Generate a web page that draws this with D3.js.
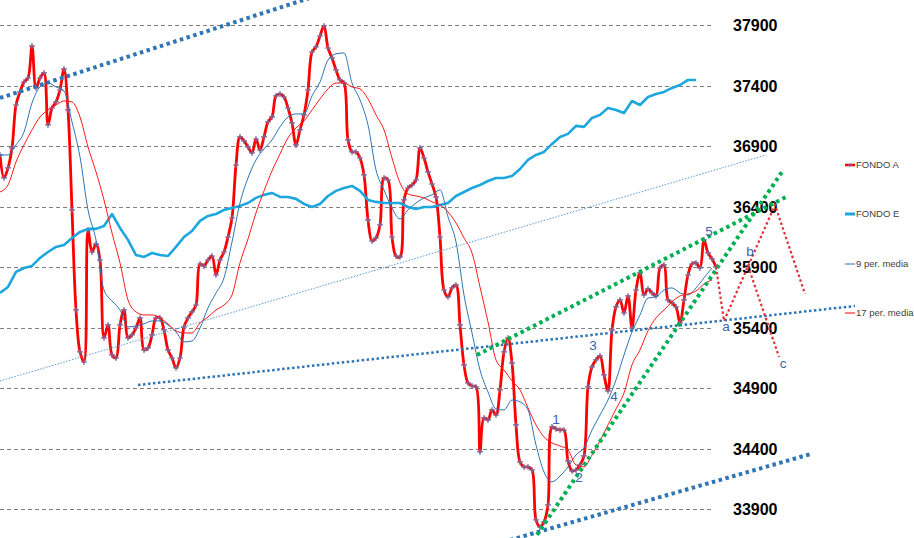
<!DOCTYPE html>
<html><head><meta charset="utf-8">
<script src="https://cdn.jsdelivr.net/npm/d3@7"></script>
<style>body{margin:0;background:#fff;}svg{display:block;}</style>
</head><body><svg id="c" width="914" height="538"></svg>
<script>
// ---- data ----
const fondoA = [36826,36636,36719,36884,37239,37347,37429,37462,37727,37380,37462,37504,37074,37214,37264,37363,37537,37198,36372,35545,
35198,35115,36206,36024,36091,35958,35314,35421,35173,35148,35421,35545,35314,35339,35396,35479,35215,35231,35339,35479,
35479,35380,35215,35148,35066,35148,35405,35479,35529,35586,35925,35909,35958,35991,35834,35958,36024,36148,36305,36743,
36975,36942,36892,36843,36958,36867,36975,37099,37140,37314,37330,37305,37214,37091,36909,37033,37157,37363,37677,37719,
37809,37892,37710,37628,37529,37446,37421,36950,36851,36851,36801,36661,36289,36115,36140,36248,36636,36619,36148,35991,
35983,36454,36553,36578,36619,36884,36801,36686,36586,36479,36148,35710,35653,35727,35752,35421,35091,34942,34917,34909,
34372,34653,34636,34719,34677,34884,35198,35314,35107,34595,34289,34248,34248,34223,33810,33752,33793,33934,34578,34562,
34553,34553,34297,34215,34223,34264,34339,34909,35074,35132,35165,35008,34876,35380,35570,35628,35520,35661,35396,35710,
35851,35669,35719,35686,35661,35892,35917,35628,35603,35570,35438,35628,35834,35925,35934,35892,36124,36016,35967,35901];
// FONDO E, sampled every 2nd period
const fondoE = [35686,35735,35859,35892,35909,35975,36024,36066,36082,36140,36190,36215,36215,36239,36338,36223,36124,35999,35983,36016,
35999,35991,36066,36148,36198,36281,36322,36338,36372,36388,36405,36429,36471,36496,36512,36479,36479,36463,36421,36396,
36421,36487,36529,36553,36570,36529,36454,36438,36429,36429,36429,36396,36380,36396,36396,36413,36429,36487,36520,36553,
36578,36611,36636,36636,36652,36710,36785,36826,36851,36917,36975,37000,37066,37058,37132,37157,37215,37198,37173,37272,
37239,37305,37330,37347,37380,37404,37446,37446];
// 9 per. media, sampled every 2nd period
const ma9 = [36826,36826,36909,37016,37256,37388,37421,37388,37355,37099,36810,36372,36124,35710,35620,35545,35405,35413,35430,35454,
35454,35421,35363,35281,35289,35396,35562,35685,35810,36107,36429,36636,36785,36876,36950,37058,37140,37165,37165,37314,
37429,37611,37661,37669,37421,37281,37074,36702,36537,36388,36297,36372,36429,36471,36496,36537,36314,36107,35669,35355,
35049,34867,34727,34719,34801,34785,34719,34429,34206,34124,34173,34248,34347,34405,34553,34677,34801,34967,35173,35363,
35504,35644,35653,35710,35727,35686,35669,35727,35810,35892];
// 17 per. media, sampled every 2nd period
const ma17 = [36520,36578,36768,36909,37033,37140,37198,37239,37272,37264,37140,36892,36686,36454,36181,35934,35628,35529,35504,35504,
35479,35430,35372,35355,35355,35438,35487,35545,35586,35669,35934,36132,36347,36529,36694,36834,36967,37049,37107,37198,
37289,37372,37421,37421,37388,37372,37289,37157,37033,36801,36595,36504,36487,36471,36438,36413,36355,36264,36140,36016,
35735,35446,35132,35049,34958,34884,34735,34595,34496,34446,34421,34388,34264,34248,34347,34463,34595,34727,34859,35091,
35215,35372,35479,35545,35611,35661,35677,35702,35760,35793];
const yTicks = [37900,37400,36900,36400,35900,35400,34900,34400,33900];
const seriesNames = ["FONDO A","FONDO E","9 per. media","17 per. media"];
// annotation lines: [period, value] pairs
const trendTopBlue   = [[0,37297],[77.5,38124]];
const trendThinBlue  = [[0,34958],[191.5,36826]];
const trendMidBlue   = [[34.5,34925],[213.75,35578]];
const trendLowBlue   = [[127.5,33644],[202.75,34355]];
const trendGreenLow  = [[134.25,33686],[195.5,36686]];
const trendGreenUp   = [[119.25,35173],[197,36487]];
const projABC        = [[179,35901],[181,35454],[193.75,36413],[201.25,35677]];
const projBC         = [[187,35909],[194.75,35157]];
const waveLabels = ["1","2","3","4","5","a","b","c"];
const wavePos = [[139,34644],[144.75,34165],[148.25,35256],[153.5,34834],[177.25,36198],[181.5,35413],[187.5,36033],[195.75,35107]];

// ---- drawing ----
const svg = d3.select("#c");
const W = 914, H = 538;
svg.append("rect").attr("width",W).attr("height",H).attr("fill","#fff");
const x = d3.scaleLinear().domain([0,179]).range([0,716]);
const y = d3.scaleLinear().domain([33900,37900]).range([509,25]);

// gridlines
svg.append("g").selectAll("line").data(yTicks).join("line")
  .attr("x1",0).attr("x2",713).attr("y1",d=>Math.round(y(d))+0.5).attr("y2",d=>Math.round(y(d))+0.5)
  .attr("stroke","#7f7f7f").attr("stroke-width",1).attr("stroke-dasharray","4,3");
// y axis labels (right)
const yAxis = d3.axisRight(y).tickValues(yTicks).tickSize(0).tickPadding(0).tickFormat(d3.format("d"));
const ga = svg.append("g").attr("transform","translate(733,0)").call(yAxis);
ga.select(".domain").remove();
ga.selectAll("text").attr("font-family","Liberation Sans, Arial, sans-serif").attr("font-weight","bold")
  .attr("font-size",16).attr("fill","#000").attr("dy","0.35em");

const clip = svg.append("g");
// FONDO A
const lineA = d3.line().x((d,i)=>x(i)).y(d=>y(d)).curve(d3.curveCatmullRom.alpha(0.5));
clip.append("path").datum(fondoA).attr("d",lineA).attr("fill","none").attr("stroke","#ff0000").attr("stroke-width",2.8).attr("stroke-linejoin","round");
// markers
const mk = clip.append("g").attr("stroke","#7a6a9e").attr("stroke-width",1.2);
fondoA.forEach((d,i)=>{
  const px=x(i), py=y(d);
  mk.append("path").attr("d",`M${px-3},${py}H${px+3}M${px},${py-3}V${py+3}`);
});
// FONDO E
const line2 = d3.line().x((d,i)=>x(i*2)).y(d=>y(d));
clip.append("path").datum(fondoE).attr("d",line2).attr("fill","none").attr("stroke","#1ea7df").attr("stroke-width",2.6).attr("stroke-linejoin","round");
const line2s = d3.line().x((d,i)=>x(i*2)).y(d=>y(d)).curve(d3.curveMonotoneX);
clip.append("path").datum(ma9).attr("d",line2s).attr("fill","none").attr("stroke","#2e75b6").attr("stroke-width",1);
clip.append("path").datum(ma17).attr("d",line2s).attr("fill","none").attr("stroke","#ff1a1a").attr("stroke-width",1);

// trend lines
const tl = d3.line().x(d=>x(d[0])).y(d=>y(d[1]));
function trend(data, color, w, dash){
  svg.append("path").datum(data).attr("d",tl).attr("fill","none").attr("stroke",color)
    .attr("stroke-width",w).attr("stroke-dasharray",dash);
}
trend(trendThinBlue,"#5b9bd5",1,"1.5,1.5");
trend(trendMidBlue,"#2e75b6",2.5,"2.5,2.5");
trend(trendTopBlue,"#2e75b6",4,"3.5,3.5");
trend(trendLowBlue,"#2e75b6",4,"3.5,3.5");
trend(trendGreenLow,"#00b050",4,"3.5,3.5");
trend(trendGreenUp,"#00b050",4,"3.5,3.5");
trend(projABC,"#e0303a",2.2,"2.5,2.5");
trend(projBC,"#e0303a",2.2,"2.5,2.5");

// wave labels
svg.append("g").selectAll("text").data(waveLabels).join("text")
  .attr("x",(d,i)=>x(wavePos[i][0])).attr("y",(d,i)=>y(wavePos[i][1]))
  .attr("text-anchor","middle").attr("dy","0.35em")
  .attr("font-family","Liberation Sans, Arial, sans-serif").attr("font-size",13.5)
  .attr("fill","#3a64ad").text(d=>d);

// legend
const legY = [165,214,264,313];
const legStyle = [{c:"#ff0000",w:2.5},{c:"#1ea7df",w:3},{c:"#2e75b6",w:1},{c:"#ff0000",w:1}];
const lg = svg.append("g");
seriesNames.forEach((n,i)=>{
  lg.append("line").attr("x1",845).attr("x2",855).attr("y1",legY[i]).attr("y2",legY[i])
    .attr("stroke",legStyle[i].c).attr("stroke-width",legStyle[i].w);
  if(i===0) lg.append("path").attr("d",`M848,${legY[i]}H852M850,${legY[i]-2}V${legY[i]+2}`).attr("stroke","#7a6a9e");
  lg.append("text").attr("x",856).attr("y",legY[i]).attr("dy","0.35em")
    .attr("font-family","Liberation Sans, Arial, sans-serif").attr("font-size",9.5).attr("fill","#404040").text(n);
});
</script></body></html>
